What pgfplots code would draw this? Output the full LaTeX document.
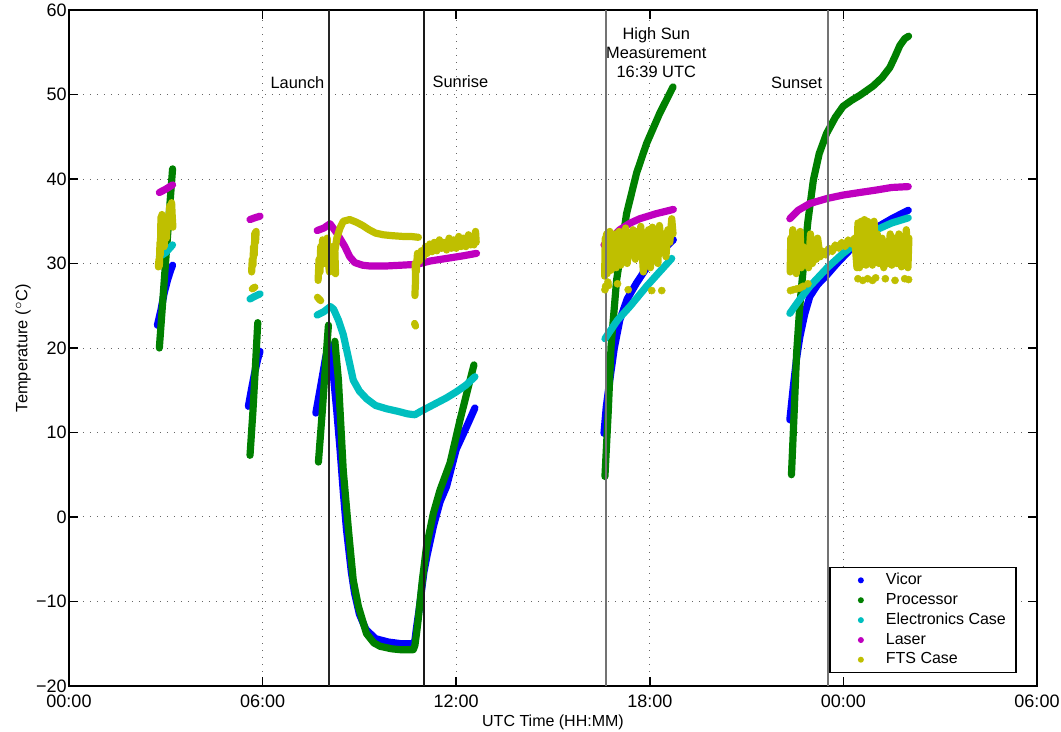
\documentclass[border=0pt]{standalone}
\usepackage{fontspec}
\setmainfont{Liberation Sans}
\usepackage{pgfplots}
\pgfplotsset{compat=1.18}
\definecolor{cVic}{rgb}{0,0,1}
\definecolor{cPro}{rgb}{0,0.5,0}
\definecolor{cEle}{rgb}{0,0.75,0.75}
\definecolor{cLas}{rgb}{0.75,0,0.75}
\definecolor{cFTS}{rgb}{0.75,0.75,0}
\begin{document}
\begin{tikzpicture}
\begin{axis}[
 scale only axis, width=484pt, height=338pt,
 xmin=0, xmax=30, ymin=-20, ymax=60,
 xtick={0,6,12,18,24,30}, xticklabels={00:00,06:00,12:00,18:00,00:00,06:00},
 ytick={-20,-10,...,60}, yticklabels={−20,−10,0,10,20,30,40,50,60},
 grid=major, grid style={black!60, line width=0.5pt, dash pattern=on 0.5pt off 3pt},
 axis line style={line width=0.75pt}, tick style={line width=0.75pt, black},
 major tick length=4.5pt, tick align=inside,
 ticklabel style={font=\fontsize{9}{10.5}\selectfont},
 yticklabel style={inner xsep=1pt},
 xticklabel style={inner ysep=4.3pt},
 xlabel={UTC Time (HH:MM)}, ylabel={Temperature ($^{\circ}$C)},
 every axis x label/.style={at={(axis description cs:0.5,-0.054)}, anchor=center, font=\fontsize{8}{9.5}\selectfont},
 every axis y label/.style={at={(axis description cs:-0.0475,0.5)}, rotate=90, anchor=center, font=\fontsize{8.2}{9.5}\selectfont},
 unbounded coords=jump,
 every axis plot/.append style={line width=3.6pt, line cap=round, line join=round},
 legend image code/.code={\path[draw=none,fill=none] (0,0) -- (23pt,0); \fill[draw=none] (12.5pt,0pt) circle (1.5pt);},
 legend style={at={(0.979,0.019)}, anchor=south east, draw=black, line width=0.75pt,
   font=\fontsize{8}{9.6}\selectfont, inner xsep=3pt, inner ysep=2pt,
   nodes={inner ysep=0.8pt}, row sep=1.2pt},
 legend cell align=left,
]
% Vicor
\addplot[cVic] coordinates {
(2.74,22.7) (2.85,24.5) (2.95,26.5) (3.05,28.0) (3.15,29.2) (3.21,29.8) (3.3,nan)
(5.56,13.1) (5.65,15.0) (5.75,17.0) (5.85,18.7) (5.92,19.6) (6,nan)
(7.65,12.3) (7.8,15.5) (7.95,18.8) (8.05,20.5) (8.12,19.0) (8.2,16.5) (8.3,12.5) (8.4,8.0) (8.5,3.0) (8.6,-1.5) (8.75,-6.5) (8.85,-9.0) (9.0,-11.5) (9.2,-13.3) (9.5,-14.4) (9.9,-14.8) (10.3,-15.0) (10.67,-15.0) (10.72,-14.6) (10.77,-13.1) (10.85,-11.0) (11.0,-6.5) (11.1,-4.5) (11.3,-1.0) (11.5,1.8) (11.7,3.6) (11.85,5.8) (12.0,8.0) (12.3,10.5) (12.58,12.9) (13,nan)
(16.58,9.9) (16.65,13.0) (16.76,16.2) (16.9,20.0) (17.07,23.3) (17.3,25.8) (17.59,27.7) (17.85,29.2) (18.1,30.4) (18.4,31.6) (18.73,32.8) (19,nan)
(22.34,11.5) (22.45,15.5) (22.55,18.8) (22.65,21.3) (22.8,24.0) (22.96,26.1) (23.2,27.5) (23.48,28.6) (23.8,30.0) (24.2,31.6) (24.6,33.0) (25.0,34.2) (25.5,35.3) (26.01,36.3)
};
\addlegendentry{Vicor}
% Processor
\addplot[cPro] coordinates {
(2.80,20.0) (3.0,30.5) (3.21,41.2) (3.3,nan)
(5.61,7.3) (5.7,12.5) (5.78,18.0) (5.85,23.0) (6,nan)
(7.73,6.5) (7.85,12.5) (7.95,18.0) (8.04,22.7) (8.1,nan)
(8.24,20.8) (8.35,16.2) (8.5,5.5) (8.66,-1.5) (8.81,-7.5) (8.97,-10.6) (9.22,-13.8) (9.45,-14.9) (9.64,-15.3) (10.0,-15.6) (10.26,-15.7) (10.67,-15.7) (10.72,-15.2) (10.77,-13.8) (10.82,-12.2) (10.95,-7.5) (11.08,-3.5) (11.29,0.4) (11.5,3.2) (11.81,6.4) (12.12,11.5) (12.35,15.0) (12.55,18.0) (13,nan)
(16.61,4.8) (16.71,12.3) (16.8,20.2) (16.97,28.0) (17.28,35.9) (17.59,40.7) (17.9,44.2) (18.31,47.8) (18.68,50.6) (18.72,50.9) (19,nan)
(22.39,5.0) (22.47,12.0) (22.55,19.4) (22.65,25.0) (22.75,29.2) (22.9,35.0) (23.07,39.9) (23.25,43.0) (23.48,45.4) (23.75,47.3) (23.99,48.6) (24.25,49.3) (24.51,49.9) (24.92,51.0) (25.2,52.0) (25.44,53.2) (25.6,54.5) (25.75,55.8) (25.9,56.6) (26.02,56.9)
};
\addlegendentry{Processor}
% Electronics Case
\addplot[cEle] coordinates {
(2.80,30.8) (3.0,31.3) (3.21,32.2) (3.3,nan)
(5.61,25.8) (5.75,26.1) (5.92,26.4) (6,nan)
(7.69,23.9) (7.9,24.3) (8.1,24.9) (8.2,24.6) (8.35,23.3) (8.5,21.6) (8.65,19.0) (8.81,16.2) (9.0,14.9) (9.22,14.0) (9.5,13.2) (9.85,12.8) (10.2,12.5) (10.5,12.2) (10.72,12.1) (10.9,12.5) (11.1,12.9) (11.4,13.5) (11.7,14.1) (12.0,14.8) (12.3,15.6) (12.58,16.6) (13,nan)
(16.61,21.1) (17.0,23.3) (17.38,24.9) (17.9,27.3) (18.3,29.0) (18.68,30.6) (19,nan)
(22.34,24.1) (22.6,25.5) (22.96,27.3) (23.5,29.5) (23.99,31.2) (24.5,32.7) (25.03,34.0) (25.5,34.8) (26.01,35.4)
};
\addlegendentry{Electronics Case}
% Laser
\addplot[cLas] coordinates {
(2.80,38.4) (3.0,38.8) (3.21,39.3) (3.3,nan)
(5.61,35.2) (5.75,35.4) (5.92,35.6) (6,nan)
(7.69,33.9) (7.9,34.2) (8.09,34.7) (8.3,33.6) (8.55,32.0) (8.7,30.8) (8.86,30.1) (9.1,29.8) (9.33,29.7) (9.8,29.7) (10.3,29.8) (10.77,29.9) (11.2,30.3) (11.7,30.6) (12.2,30.9) (12.63,31.2) (13,nan)
(16.58,32.2) (16.8,33.0) (17.07,34.0) (17.4,34.8) (17.69,35.3) (18.2,35.9) (18.73,36.4) (19,nan)
(22.34,35.3) (22.6,36.3) (22.96,37.1) (23.5,37.7) (23.99,38.1) (24.5,38.4) (25.03,38.7) (25.5,39.0) (26.01,39.1)
};
\addlegendentry{Laser}
% FTS Case
\addplot[cFTS] coordinates {
(2.77,29.6) (2.79,30.5) (2.80,29.7) (2.82,32.5) (2.83,31.0) (2.85,35.5) (2.86,33.0) (2.88,35.8) (2.9,33.5) (2.93,34.0) (2.95,32.0) (2.97,33.5) (3.0,34.5) (3.02,33.0) (3.05,35.5) (3.08,34.5) (3.12,36.8) (3.15,35.0) (3.18,37.2) (3.2,35.5) (3.22,34.3) (3.3,nan)
(5.66,29.0) (5.68,30.5) (5.7,29.8) (5.72,32.0) (5.74,31.0) (5.76,33.6) (5.78,32.5) (5.8,33.8) (5.85,nan)
(5.68,27.0) (5.76,27.2) (5.9,nan)
(7.7,26.0) (7.8,25.6) (7.85,nan)
(7.72,28.0) (7.75,30.5) (7.78,29.0) (7.8,32.0) (7.83,30.0) (7.86,32.8) (7.9,31.0) (7.93,30.0) (7.96,31.5) (8.0,33.0) (8.03,30.5) (8.07,29.0) (8.1,31.5) (8.13,29.5) (8.16,32.0) (8.22,29.0) (8.26,28.8) (8.24,31.5) (8.3,33.0) (8.4,34.2) (8.5,35.0) (8.7,35.2) (8.9,34.9) (9.1,34.5) (9.3,34.0) (9.5,33.6) (9.74,33.4) (10.0,33.3) (10.36,33.2) (10.6,33.2) (10.83,33.1) (10.9,nan)
(10.71,22.9) (10.74,22.6) (10.8,nan)
(10.72,26.2) (10.74,28.0) (10.73,30.0) (10.76,29.0) (10.8,31.2) (10.86,30.3) (10.92,31.5) (10.98,30.8) (11.05,32.0) (11.1,31.2) (11.18,32.3) (11.25,31.4) (11.32,32.5) (11.4,31.5) (11.48,32.8) (11.55,31.8) (11.62,32.5) (11.7,31.6) (11.78,33.0) (11.85,31.8) (11.92,32.8) (12.0,31.8) (12.08,33.2) (12.15,32.0) (12.22,33.0) (12.3,32.0) (12.38,33.4) (12.45,32.2) (12.5,33.0) (12.55,32.2) (12.6,33.8) (12.62,32.5) (13,nan)
(16.6,28.5) (16.62,33.0) (16.64,29.0) (16.66,33.5) (16.68,28.8) (16.7,32.5) (16.73,29.5) (16.76,33.8) (16.8,29.2) (16.84,32.0) (16.88,30.0) (16.92,33.5) (16.96,29.5) (17.0,32.0) (17.05,33.8) (17.1,29.8) (17.15,33.0) (17.2,30.5) (17.25,34.2) (17.3,30.0) (17.36,33.5) (17.42,31.0) (17.48,34.0) (17.55,30.5) (17.6,33.8) (17.66,31.2) (17.72,34.4) (17.8,29.0) (17.85,33.5) (17.9,31.0) (17.96,34.0) (18.02,29.5) (18.08,34.3) (18.15,31.5) (18.2,33.8) (18.25,30.0) (18.3,34.5) (18.36,31.5) (18.42,33.5) (18.5,30.8) (18.56,34.0) (18.62,32.5) (18.68,35.3) (18.72,33.5) (19,nan)
(22.35,29.0) (22.37,33.0) (22.4,29.5) (22.43,34.0) (22.46,29.2) (22.5,33.5) (22.54,28.8) (22.58,32.5) (22.62,30.0) (22.66,33.8) (22.7,29.5) (22.75,32.0) (22.8,29.8) (22.86,31.5) (22.92,29.5) (22.98,33.5) (23.04,30.0) (23.1,32.5) (23.16,30.5) (23.2,33.0) (23.28,30.8) (23.35,31.5) (23.45,31.0) (23.55,31.8) (23.65,31.4) (23.75,32.2) (23.85,31.8) (23.95,32.5) (24.05,32.0) (24.15,32.8) (24.25,32.3) (24.35,33.0) (24.42,29.5) (24.45,34.8) (24.5,29.5) (24.55,35.0) (24.6,30.0) (24.65,35.2) (24.7,29.8) (24.75,35.0) (24.8,30.5) (24.85,34.8) (24.9,29.8) (24.95,35.0) (25.0,30.5) (25.05,33.5) (25.1,30.0) (25.2,33.0) (25.25,29.5) (25.32,32.0) (25.38,30.0) (25.45,33.5) (25.5,29.8) (25.58,33.0) (25.65,30.0) (25.72,33.5) (25.8,29.6) (25.85,32.5) (25.9,30.0) (25.95,34.0) (26.0,29.5) (26.03,33.0)
};
\addlegendentry{FTS Case}
% FTS outliers
\addplot[forget plot, only marks, mark=*, mark size=1.8pt, cFTS, line width=0.2pt] coordinates {
(16.61,26.9) (16.63,27.3) (16.7,27.8) (16.72,27.4) (17.0,27.6) (17.33,26.9) (18.06,26.8) (18.37,26.8)
(22.36,26.8) (22.45,26.9) (22.55,27.0) (22.65,27.1) (22.75,27.3) (22.9,27.6)
(24.45,28.2) (24.6,28.0) (24.75,28.2) (24.9,28.0) (25.0,28.3) (25.3,28.2) (25.6,28.0) (25.9,28.2) (26.02,28.1)
};
% event lines
\addplot[forget plot, black!85, line width=0.8pt, line cap=butt] coordinates {(8.05,-20) (8.05,60)};
\addplot[forget plot, black!90, line width=0.8pt, line cap=butt] coordinates {(11.01,-20) (11.01,60)};
\addplot[forget plot, black!55, line width=0.8pt, line cap=butt] coordinates {(16.65,-20) (16.65,60)};
\addplot[forget plot, black!55, line width=0.8pt, line cap=butt] coordinates {(23.52,-20) (23.52,60)};
\node[font=\fontsize{8.2}{9.5}\selectfont] at (axis cs:7.08,51.4) {Launch};
\node[font=\fontsize{8.2}{9.5}\selectfont] at (axis cs:12.13,51.5) {Sunrise};
\node[font=\fontsize{8.2}{9.5}\selectfont, align=center] at (axis cs:18.2,54.95) {High Sun\\Measurement\\16:39 UTC};
\node[font=\fontsize{8.2}{9.5}\selectfont] at (axis cs:22.55,51.4) {Sunset};
\end{axis}
\pgfresetboundingbox
\path[use as bounding box] (-34.5pt,-23pt) rectangle (496pt,343pt);
\end{tikzpicture}
\end{document}
